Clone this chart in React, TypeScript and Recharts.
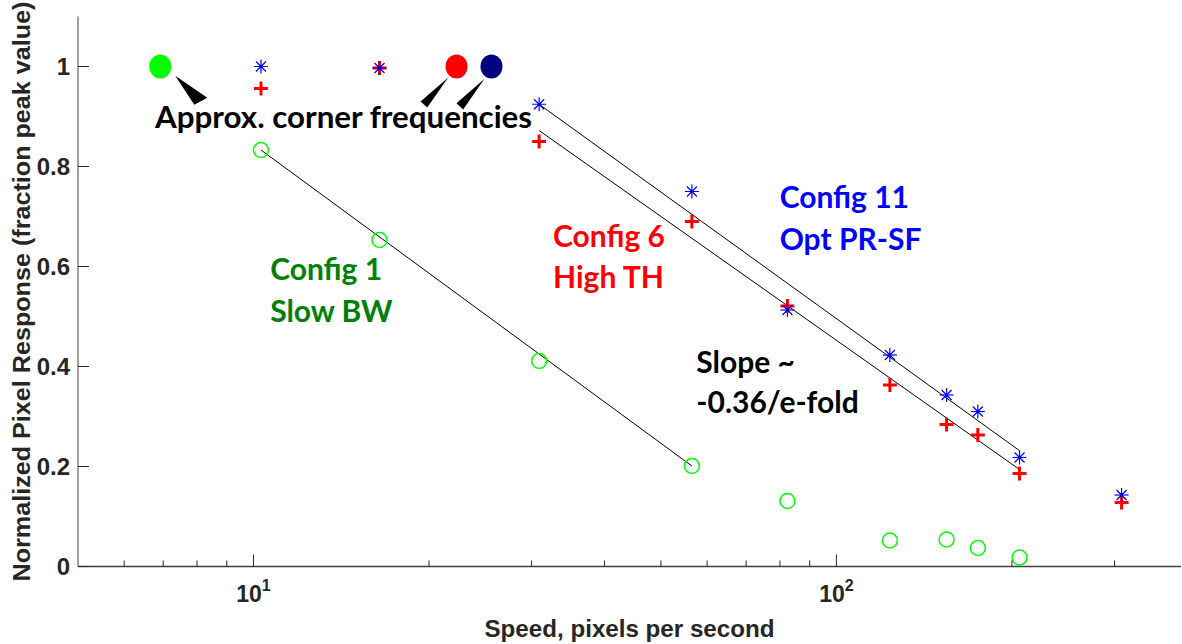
import React from 'react';
import { ComposedChart, XAxis, YAxis, Scatter, ReferenceDot } from 'recharts';

// ---- data ----
const speeds = [10.3, 16.45, 30.9, 56.5, 82.4, 123.5, 154.5, 174.8, 206.1, 308.4];
const config1Speeds = [10.3, 16.45, 30.9, 56.5, 82.4, 123.5, 154.5, 174.8, 206.1];
const config1Values = [0.833, 0.653, 0.411, 0.201, 0.131, 0.052, 0.054, 0.037, 0.018];
const config6Values = [0.956, 0.997, 0.85, 0.69, 0.521, 0.363, 0.284, 0.263, 0.186, 0.128];
const config11Values = [1.0, 0.997, 0.9245, 0.75, 0.513, 0.423, 0.343, 0.31, 0.218, 0.143];

const fit1Speeds = [10.3, 56.5];
const fit1Values = [0.833, 0.201];
const fit6Speeds = [30.9, 206.1];
const fit6Values = [0.872, 0.194];
const fit11Speeds = [30.9, 206.1];
const fit11Values = [0.9245, 0.2317];

const cornerSpeeds = [6.92, 22.3, 25.6];
const cornerValues = [1, 1, 1];

const xTicks = [6, 7, 8, 9, 10, 20, 30, 40, 50, 60, 70, 80, 90, 100, 200, 300];
const xMajorTicks = [10, 100];
const xMajorExponents = ['1', '2'];
const yTicks = [0, 0.2, 0.4, 0.6, 0.8, 1];
const yTickLabels = ['0', '0.2', '0.4', '0.6', '0.8', '1'];

const annotationTexts = ['Approx. corner frequencies', 'Config 1', 'Slow BW', 'Config 6', 'High TH', 'Config 11', 'Opt PR-SF', 'Slope ~', '-0.36/e-fold'];
const annotationSpeeds = [6.78, 10.68, 10.68, 32.65, 32.65, 79.9, 79.9, 57.5, 57.5];
const annotationValues = [0.877, 0.573, 0.4896, 0.6396, 0.557, 0.7164, 0.633, 0.3864, 0.3064];

// ---- styles ----
const annotationColors = ['#000000', '#008000', '#008000', '#ff0000', '#ff0000', '#0000ff', '#0000ff', '#000000', '#000000'];
const annotationSizes = [31.3, 30, 30, 30, 30, 30, 30, 30, 30];
const cornerColors = ['#00ff00', '#ff0000', '#000080'];
const wedgeShapes = [
  [[15, 9.3], [34, 38.3], [47, 31.3]],
  [[-8.3, 11], [-36, 35], [-29.3, 41]],
  [[-7, 12.3], [-35, 36.7], [-28.3, 43]],
];

const toPoints = (xs: number[], ys: number[]) => xs.map((x, i) => ({ x, y: ys[i] }));

const config1Data = toPoints(config1Speeds, config1Values);
const config6Data = toPoints(speeds, config6Values);
const config11Data = toPoints(speeds, config11Values);
const fit1Data = toPoints(fit1Speeds, fit1Values);
const fit6Data = toPoints(fit6Speeds, fit6Values);
const fit11Data = toPoints(fit11Speeds, fit11Values);
const cornerData = cornerSpeeds.map((x, i) => ({ x, y: cornerValues[i], idx: i }));

const AXIS_FONT = '"Liberation Sans", Arial, Helvetica, sans-serif';
const ANN_FONT = 'Lato, "Open Sans", sans-serif';
const TEXT_DARK = '#262626';

const BottomTick = (props: any) => {
  const { x, y, payload } = props;
  const v = payload.value;
  const mi = xMajorTicks.indexOf(v);
  const len = mi >= 0 ? 12 : 6;
  return (
    <g>
      <line x1={x} x2={x} y1={y} y2={y - len} stroke={TEXT_DARK} strokeWidth={1} />
      {mi >= 0 && (
        <text x={x} y={y + 35} textAnchor="middle" fontFamily={AXIS_FONT} fontWeight="bold" fontSize={23} fill={TEXT_DARK}>
          10
          <tspan dy={-11} fontSize={16}>{xMajorExponents[mi]}</tspan>
        </text>
      )}
    </g>
  );
};

const TopTick = (props: any) => {
  const { x, y, payload } = props;
  const len = xMajorTicks.indexOf(payload.value) >= 0 ? 12 : 6;
  return <line x1={x} x2={x} y1={y} y2={y + len} stroke={TEXT_DARK} strokeWidth={1} />;
};

const LeftTick = (props: any) => {
  const { x, y, payload } = props;
  const i = yTicks.indexOf(payload.value);
  return (
    <g>
      <line x1={x} x2={x + 11} y1={y} y2={y} stroke={TEXT_DARK} strokeWidth={1} />
      <text x={x - 8} y={y} dy="0.36em" textAnchor="end" fontFamily={AXIS_FONT} fontWeight="bold" fontSize={24} fill={TEXT_DARK}>
        {i >= 0 ? yTickLabels[i] : ''}
      </text>
    </g>
  );
};

const RightTick = (props: any) => {
  const { x, y } = props;
  return <line x1={x} x2={x - 11} y1={y} y2={y} stroke={TEXT_DARK} strokeWidth={1} />;
};

const XTitle = (props: any) => {
  const vb = props.viewBox || {};
  const cx = (vb.x ?? 78) + (vb.width ?? 1103) / 2;
  const y = (vb.y ?? 566.5) + 70;
  return (
    <text x={cx} y={y} textAnchor="middle" fontFamily={AXIS_FONT} fontWeight="bold" fontSize={24} fill={TEXT_DARK} textLength={290} lengthAdjust="spacingAndGlyphs">
      Speed, pixels per second
    </text>
  );
};

const YTitle = (props: any) => {
  const vb = props.viewBox || {};
  const cy = (vb.y ?? 16.5) + (vb.height ?? 550) / 2;
  const x = 30;
  return (
    <text x={x} y={cy} transform={`rotate(-90 ${x} ${cy})`} textAnchor="middle" fontFamily={AXIS_FONT} fontWeight="bold" fontSize={23} fill={TEXT_DARK} textLength={580} lengthAdjust="spacingAndGlyphs">
      Normalized Pixel Response (fraction peak value)
    </text>
  );
};

const CircleMarker = (props: any) => {
  const { cx, cy } = props;
  return <circle cx={cx} cy={cy} r={7.5} fill="none" stroke="#00ff00" strokeWidth={1.5} />;
};

const PlusMarker = (props: any) => {
  const { cx, cy } = props;
  const r = 7;
  return (
    <g stroke="#ff0000" strokeWidth={3}>
      <line x1={cx - r} x2={cx + r} y1={cy} y2={cy} />
      <line x1={cx} x2={cx} y1={cy - r} y2={cy + r} />
    </g>
  );
};

const StarMarker = (props: any) => {
  const { cx, cy } = props;
  const r = 7;
  const d = 5;
  return (
    <g stroke="#0000ff" strokeWidth={1.2}>
      <line x1={cx - r} x2={cx + r} y1={cy} y2={cy} />
      <line x1={cx} x2={cx} y1={cy - r} y2={cy + r} />
      <line x1={cx - d} x2={cx + d} y1={cy - d} y2={cy + d} />
      <line x1={cx - d} x2={cx + d} y1={cy + d} y2={cy - d} />
      <circle cx={cx} cy={cy} r={1.4} fill="#0000cc" stroke="none" />
    </g>
  );
};

const CornerMarker = (props: any) => {
  const { cx, cy, payload } = props;
  const i = payload?.idx ?? 0;
  const w = wedgeShapes[i];
  const pts = w.map(([dx, dy]) => `${cx + dx},${cy + dy}`).join(' ');
  return (
    <g>
      <ellipse cx={cx} cy={cy} rx={11} ry={12} fill={cornerColors[i]} />
      <polygon points={pts} fill="#000000" />
    </g>
  );
};

const NoMarker = () => <g />;

const makeTextShape = (i: number) => (props: any) => (
  <text x={props.cx} y={props.cy} fontFamily={ANN_FONT} fontWeight="bold" fontSize={annotationSizes[i]} fill={annotationColors[i]}>
    {annotationTexts[i]}
  </text>
);

export default function App() {
  return (
    <div style={{ position: 'absolute', left: 0, top: 0 }}>
      <ComposedChart width={1182} height={644} margin={{ top: 16.5, right: 1, bottom: 0, left: 0 }}>
        <XAxis
          dataKey="x"
          type="number"
          scale="log"
          domain={[5, 390]}
          allowDataOverflow
          ticks={xTicks}
          height={77.5}
          tickSize={0}
          tickMargin={0}
          tickLine={false}
          axisLine={{ stroke: '#404040', strokeWidth: 1.5 }}
          tick={<BottomTick />}
          interval={0}
          label={<XTitle />}
        />
        <XAxis
          xAxisId="top"
          orientation="top"
          dataKey="x"
          type="number"
          scale="log"
          domain={[5, 390]}
          allowDataOverflow
          ticks={xTicks}
          height={0}
          tickSize={0}
          tickMargin={0}
          tickLine={false}
          axisLine={{ stroke: '#808080', strokeWidth: 1.5 }}
          tick={<TopTick />}
          interval={0}
        />
        <YAxis
          dataKey="y"
          type="number"
          domain={[0, 1.1]}
          allowDataOverflow
          ticks={yTicks}
          width={78}
          tickSize={0}
          tickMargin={0}
          tickLine={false}
          axisLine={{ stroke: '#808080', strokeWidth: 1.5 }}
          tick={<LeftTick />}
          interval={0}
          label={<YTitle />}
        />
        <YAxis
          yAxisId="right"
          orientation="right"
          dataKey="y"
          type="number"
          domain={[0, 1.1]}
          allowDataOverflow
          ticks={yTicks}
          width={0}
          tickSize={0}
          tickMargin={0}
          tickLine={false}
          axisLine={{ stroke: '#808080', strokeWidth: 1.5 }}
          tick={<RightTick />}
          interval={0}
        />

        <Scatter data={fit1Data} line={{ stroke: '#000000', strokeWidth: 1 }} shape={<NoMarker />} isAnimationActive={false} />
        <Scatter data={fit6Data} line={{ stroke: '#000000', strokeWidth: 1 }} shape={<NoMarker />} isAnimationActive={false} />
        <Scatter data={fit11Data} line={{ stroke: '#000000', strokeWidth: 1 }} shape={<NoMarker />} isAnimationActive={false} />

        <Scatter data={config1Data} shape={<CircleMarker />} isAnimationActive={false} />
        <Scatter data={config6Data} shape={<PlusMarker />} isAnimationActive={false} />
        <Scatter data={config11Data} shape={<StarMarker />} isAnimationActive={false} />
        <Scatter data={cornerData} shape={<CornerMarker />} isAnimationActive={false} />

        {annotationTexts.map((t, i) => (
          <ReferenceDot key={t} x={annotationSpeeds[i]} y={annotationValues[i]} r={0} shape={makeTextShape(i)} ifOverflow="visible" />
        ))}
      </ComposedChart>
    </div>
  );
}
